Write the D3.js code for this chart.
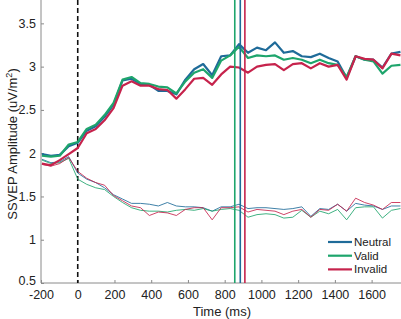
<!DOCTYPE html>
<html lang="en">
  <head>
    <meta charset="UTF-8">
    <title>SSVEP amplitude</title>
    <script src="https://cdn.jsdelivr.net/npm/d3@7"></script>
    <style>
      html, body {
        margin: 0;
        padding: 0;
        background: #fff;
      }
      body {
        font-family: 'Liberation Sans', Arial, sans-serif;
      }
      svg text {
        fill: #222;
      }
    </style>
  </head>
  <body>
    <svg id="chart" width="401" height="319"></svg>
    <script>
      // sample times (ms)
      const times = [-195, -146, -98, -49, 0, 49, 98, 146, 195, 244, 293, 342, 390, 439, 488, 537, 586, 634, 683, 732,
        781, 830, 878, 927, 976, 1025, 1074, 1122, 1171, 1220, 1269, 1318, 1366, 1415, 1464, 1513, 1562, 1610, 1659, 1708, 1757];

      // attended (upper) traces
      const neutralHigh = [1.99, 1.97, 1.98, 2.08, 2.12, 2.26, 2.31, 2.42, 2.56, 2.84, 2.86, 2.80, 2.79, 2.72, 2.72, 2.68, 2.85, 2.97, 3.03, 2.90,
        3.12, 3.13, 3.26, 3.16, 3.22, 3.19, 3.28, 3.16, 3.18, 3.12, 3.11, 3.15, 3.10, 3.06, 2.87, 3.12, 3.08, 3.08, 2.99, 3.15, 3.17];
      const validHigh = [1.97, 1.96, 1.97, 2.10, 2.13, 2.28, 2.33, 2.44, 2.58, 2.85, 2.88, 2.81, 2.80, 2.77, 2.76, 2.69, 2.83, 2.93, 2.97, 2.87,
        3.07, 3.13, 3.23, 3.10, 3.13, 3.12, 3.13, 3.08, 3.10, 3.08, 3.04, 3.08, 3.04, 3.02, 2.88, 3.12, 3.08, 3.06, 2.92, 3.01, 3.02];
      const invalidHigh = [1.88, 1.86, 1.92, 1.99, 2.06, 2.23, 2.28, 2.38, 2.52, 2.78, 2.83, 2.78, 2.78, 2.74, 2.73, 2.63, 2.74, 2.86, 2.87, 2.79,
        2.91, 3.00, 2.99, 2.93, 3.00, 3.02, 3.03, 2.96, 3.03, 3.04, 2.98, 3.04, 3.00, 3.02, 2.85, 3.12, 3.09, 3.08, 2.98, 3.15, 3.13];

      // unattended (lower) traces
      const neutralLow = [1.93, 1.89, 1.90, 1.96, 1.77, 1.70, 1.66, 1.60, 1.52, 1.47, 1.42, 1.42, 1.41, 1.39, 1.43, 1.39, 1.38, 1.38, 1.37, 1.33,
        1.38, 1.38, 1.41, 1.36, 1.37, 1.37, 1.36, 1.35, 1.36, 1.38, 1.27, 1.36, 1.35, 1.41, 1.33, 1.42, 1.40, 1.39, 1.35, 1.39, 1.39];
      const validLow = [1.92, 1.88, 1.89, 1.94, 1.70, 1.64, 1.60, 1.58, 1.50, 1.43, 1.37, 1.34, 1.33, 1.33, 1.32, 1.34, 1.35, 1.34, 1.36, 1.33,
        1.35, 1.36, 1.34, 1.26, 1.29, 1.30, 1.29, 1.25, 1.26, 1.34, 1.26, 1.33, 1.30, 1.35, 1.23, 1.37, 1.38, 1.38, 1.25, 1.34, 1.36];
      const invalidLow = [1.87, 1.85, 1.88, 1.95, 1.79, 1.71, 1.66, 1.63, 1.51, 1.45, 1.39, 1.37, 1.28, 1.32, 1.31, 1.28, 1.35, 1.37, 1.37, 1.23,
        1.37, 1.37, 1.38, 1.32, 1.35, 1.34, 1.33, 1.29, 1.33, 1.35, 1.26, 1.35, 1.34, 1.41, 1.33, 1.48, 1.43, 1.40, 1.35, 1.43, 1.43];

      const conditions = ['Neutral', 'Valid', 'Invalid'];
      const colors = ['#1f6b99', '#1ea56c', '#c6234c'];
      const onsetLines = [885, 855, 910]; // neutral, valid, invalid
      const xTicks = [-200, 0, 200, 400, 600, 800, 1000, 1200, 1400, 1600];
      const yTicks = [0.5, 1, 1.5, 2, 2.5, 3, 3.5];

      const highSeries = [neutralHigh, validHigh, invalidHigh];
      const lowSeries = [neutralLow, validLow, invalidLow];

      const margin = {left: 41, right: 0, top: 0, bottom: 36};
      const width = 401, height = 319;

      const x = d3.scaleLinear().domain([-200, 1760]).range([margin.left, width - margin.right]);
      const y = d3.scaleLinear().domain([0.5, 3.77]).range([height - margin.bottom, margin.top]);

      const svg = d3.select('#chart');

      const line = d3.line()
        .x((d, i) => x(times[i]))
        .y(d => y(d));

      // x axis
      const xAxis = svg.append('g')
        .attr('transform', `translate(0,${y(0.5)})`)
        .call(d3.axisBottom(x).tickValues(xTicks).tickSize(-3).tickPadding(7).tickFormat(d => String(d)));
      xAxis.select('.domain').attr('stroke', '#8a8a8a').attr('d', `M${x(-200)},0H${width}`);
      xAxis.selectAll('.tick line').attr('stroke', '#8a8a8a');
      xAxis.selectAll('.tick text')
        .style('font-family', "'Liberation Sans', Arial, sans-serif")
        .style('font-size', '12.5px')
        .attr('fill', '#222');

      // y axis
      const yAxis = svg.append('g')
        .attr('transform', `translate(${x(-200)},0)`)
        .call(d3.axisLeft(y).tickValues(yTicks).tickSize(-3).tickPadding(5).tickFormat(d => String(d)));
      yAxis.select('.domain').attr('stroke', '#8a8a8a').attr('d', `M0,0V${y(0.5)}`);
      yAxis.selectAll('.tick line').attr('stroke', '#8a8a8a');
      yAxis.selectAll('.tick text')
        .style('font-family', "'Liberation Sans', Arial, sans-serif")
        .style('font-size', '12.5px')
        .attr('fill', '#222');
      // MATLAB-style: bottom y label sits a little above the corner
      yAxis.selectAll('.tick text').filter(d => d === 0.5).attr('dy', '0.1em');

      // stimulus onset
      svg.append('line')
        .attr('x1', x(0)).attr('x2', x(0))
        .attr('y1', y(3.77)).attr('y2', y(0.5))
        .attr('stroke', '#111')
        .attr('stroke-width', 1.6)
        .attr('stroke-dasharray', '5,3');

      // lower traces
      svg.append('g').selectAll('path')
        .data(lowSeries)
        .join('path')
        .attr('d', line)
        .attr('fill', 'none')
        .attr('stroke', (d, i) => colors[i])
        .attr('stroke-width', 1)
        .attr('opacity', 0.85);

      // upper traces
      svg.append('g').selectAll('path')
        .data(highSeries)
        .join('path')
        .attr('d', line)
        .attr('fill', 'none')
        .attr('stroke', (d, i) => colors[i])
        .attr('stroke-width', 2.2)
        .attr('stroke-linejoin', 'round');

      // vertical markers
      svg.append('g').selectAll('line')
        .data(onsetLines)
        .join('line')
        .attr('x1', d => x(d)).attr('x2', d => x(d))
        .attr('y1', y(3.77)).attr('y2', y(0.5))
        .attr('stroke', (d, i) => colors[i])
        .attr('stroke-width', 1.6);

      // legend
      const legend = svg.append('g').attr('transform', 'translate(328,242)');
      conditions.forEach((name, i) => {
        legend.append('line')
          .attr('x1', 0).attr('x2', 24)
          .attr('y1', i * 13.7).attr('y2', i * 13.7)
          .attr('stroke', colors[i])
          .attr('stroke-width', 2.2);
        legend.append('text')
          .attr('x', 26)
          .attr('y', i * 13.7 + 4)
          .style('font-size', '11.5px')
          .text(name);
      });

      // axis labels
      svg.append('text')
        .attr('x', 222)
        .attr('y', 316)
        .attr('text-anchor', 'middle')
        .style('font-size', '13px')
        .text('Time (ms)');

      const yLabel = svg.append('text')
        .attr('transform', 'translate(17,144) rotate(-90)')
        .attr('text-anchor', 'middle')
        .style('font-size', '13px');
      yLabel.append('tspan').text('SSVEP Amplitude (uV/m');
      yLabel.append('tspan').attr('dy', -5).style('font-size', '9px').text('2');
      yLabel.append('tspan').attr('dy', 5).text(')');
    </script>
  </body>
</html>
